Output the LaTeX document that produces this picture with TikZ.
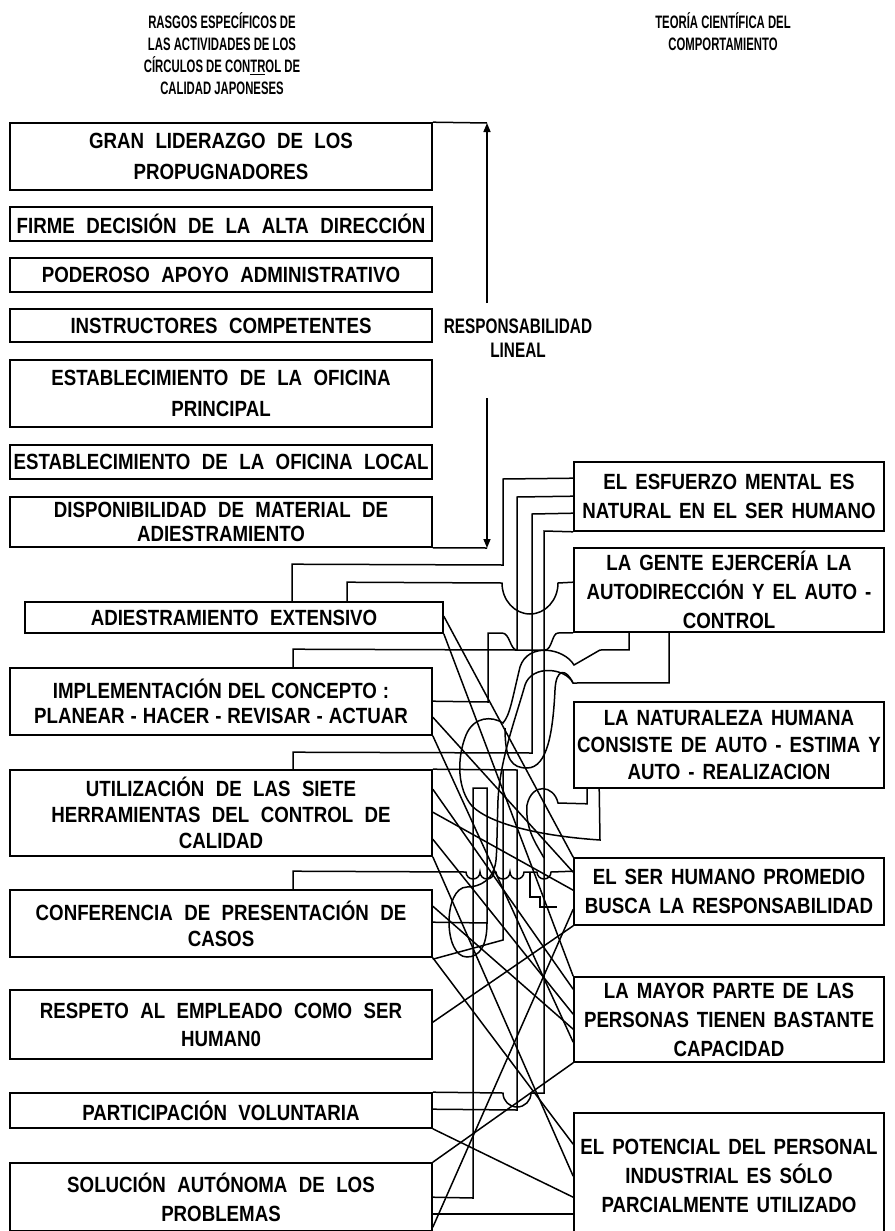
\documentclass[tikz,border=0pt]{standalone}
\usepackage{fontspec}
\setmainfont{Liberation Sans}
\newfontfamily\boxfont{Liberation Sans}[FakeStretch=0.85,WordSpace=2.2]
\newfontfamily\headfont{Liberation Sans}[FakeStretch=0.63]
\newfontfamily\sidefont{Liberation Sans}[FakeStretch=0.73]
\newcommand\narrowgaps{\spaceskip 6pt\relax}
\newcommand\rightgaps{\spaceskip 8pt\relax}
\usetikzlibrary{arrows.meta}
\begin{document}
\begin{tikzpicture}[x=1pt,y=-1pt,
  box/.style={draw, line width=1.6pt, inner sep=0pt, align=center,
    font=\boxfont\bfseries\fontsize{22}{29}\selectfont},
  lbox/.style={box, minimum width=422pt},
  rbox/.style={box, minimum width=310pt,
    font=\boxfont\bfseries\fontsize{22}{29}\selectfont\rightgaps},
  tight/.style={font=\boxfont\bfseries\fontsize{22}{29}\selectfont\narrowgaps},
  head/.style={align=center, font=\headfont\bfseries\fontsize{18}{22}\selectfont},
  wire/.style={line width=1.5pt, line join=miter},
  tip/.style={-{Triangle[length=9pt,width=7pt]}}]
\useasboundingbox (0,0) rectangle (894,1231);
\clip (0,0) rectangle (894,1231);

% column headings
\node[head] (hL) at (222,54) {RASGOS ESPECÍFICOS DE\\LAS ACTIVIDADES DE LOS\\CÍRCULOS DE CON\underline{TR}OL DE\\CALIDAD JAPONESES};
\node[head] (hR) at (723,32) {TEORÍA CIENTÍFICA DEL\\COMPORTAMIENTO};

% left column: features of the quality circles
\node[lbox, minimum height=67pt] (L1) at (221,156.5) {GRAN LIDERAZGO DE LOS\\[2pt]PROPUGNADORES};
\node[lbox, minimum height=34pt] (L2) at (221,224) {FIRME DECISIÓN DE LA ALTA DIRECCIÓN};
\node[lbox, minimum height=34pt] (L3) at (221,275) {PODEROSO APOYO ADMINISTRATIVO};
\node[lbox, minimum height=33pt] (L4) at (221,325.5) {INSTRUCTORES COMPETENTES};
\node[lbox, minimum height=67pt] (L5) at (221,393.5) {ESTABLECIMIENTO DE LA OFICINA\\[2pt]PRINCIPAL};
\node[lbox, minimum height=34pt] (L6) at (221,462) {ESTABLECIMIENTO DE LA OFICINA LOCAL};
\node[lbox, minimum height=50pt] (L7) at (221,522) {DISPONIBILIDAD DE MATERIAL DE\\[-5pt]ADIESTRAMIENTO};
\node[box, minimum width=418pt, minimum height=31pt] (L8) at (234,617.5) {ADIESTRAMIENTO EXTENSIVO};
\node[lbox, tight, minimum height=67pt] (L9) at (221,701.5) {IMPLEMENTACIÓN DEL CONCEPTO :\\[-4pt]PLANEAR - HACER - REVISAR - ACTUAR};
\node[lbox, minimum height=86pt] (L10) at (221,813) {UTILIZACIÓN DE LAS SIETE\\[-3pt]HERRAMIENTAS DEL CONTROL DE\\[-3pt]CALIDAD};
\node[lbox, minimum height=67pt] (L11) at (221,923.5) {CONFERENCIA DE PRESENTACIÓN DE\\[-3pt]CASOS};
\node[lbox, minimum height=69pt] (L12) at (221,1024.5) {RESPETO AL EMPLEADO COMO SER\\[-1pt]HUMAN0};
\node[lbox, minimum height=35pt] (L13) at (221,1110.5) {PARTICIPACIÓN VOLUNTARIA};
\node[lbox, minimum height=68pt] (L14) at (221,1197) {SOLUCIÓN AUTÓNOMA DE LOS\\PROBLEMAS};

% right column: scientific theory of behaviour
\node[rbox, minimum height=69pt] (R1) at (729,496.5) {EL ESFUERZO MENTAL ES\\NATURAL EN EL SER HUMANO};
\node[rbox, minimum height=84pt] (R2) at (729,590) {LA GENTE EJERCERÍA LA\\AUTODIRECCIÓN Y EL AUTO -\\CONTROL};
\node[rbox, minimum height=86pt] (R3) at (729,745) {LA NATURALEZA HUMANA\\[-2pt]CONSISTE DE AUTO - ESTIMA Y\\[-2pt]AUTO - REALIZACION};
\node[rbox, minimum height=67pt] (R4) at (729,891.5) {EL SER HUMANO PROMEDIO\\BUSCA LA RESPONSABILIDAD};
\node[rbox, minimum height=85pt] (R5) at (729,1019.5) {LA MAYOR PARTE DE LAS\\PERSONAS TIENEN BASTANTE\\CAPACIDAD};
\node[rbox, minimum height=126pt] (R6) at (729,1176) {EL POTENCIAL DEL PERSONAL\\INDUSTRIAL ES SÓLO\\PARCIALMENTE UTILIZADO};

% line responsibility, with its two arrows
\node[align=center, font=\sidefont\bfseries\fontsize{21}{24}\selectfont] (RL) at (518,338) {RESPONSABILIDAD\\LINEAL};
\coordinate (up) at (487,123);
\coordinate (dn) at (487,548);
\coordinate (upfoot) at (487,303);
\coordinate (dnfoot) at (487,398);
\draw[wire] (L1.north east) -- (up);
\draw[wire] (L7.south east) -- (dn);
\draw[wire, tip] (upfoot) -- (up);
\draw[wire, tip] (dnfoot) -- (dn);

% orthogonal links leaving the tops of the left boxes
\draw[wire] ([xshift=268]L8.north west) -- ++(0,-37) -- (503,565) -- (503,479) -- ([yshift=-17]R1.north west);
\draw[wire] ([xshift=323]L8.north west) -- ++(0,-19) -- (502,583)
  arc[start angle=180, end angle=0, x radius=28, y radius=31] -- ([yshift=-35]R2.north west);
\draw[wire] ([xshift=284]L9.north west) -- ++(0,-18) -- (517,650) -- (517,497) -- ([yshift=-35]R1.north west);
\draw[wire] ([xshift=284]L10.north west) -- ++(0,-17) -- (532,753) -- (532,514) -- ([yshift=-52]R1.north west);
\draw[wire] ([xshift=284]L11.north west) -- ++(0,-18) -- (466,872)
  arc[start angle=180, end angle=0, radius=7] -- (480,872)
  arc[start angle=180, end angle=0, radius=7] -- (496,872)
  arc[start angle=180, end angle=0, radius=7] -- (510,872)
  arc[start angle=180, end angle=0, radius=7] -- (537,872)
  arc[start angle=180, end angle=0, radius=7] -- ([yshift=-14]R4.north west);
\draw[wire] (R1.south west) -- (544,531) -- (544,1093) -- (531,1093)
  arc[start angle=0, end angle=180, radius=14] -- (L13.north east);
\draw[wire] ([yshift=-17]L13.north east) -- (517,1110) -- (517,770) -- (L10.north east);
\draw[wire] ([yshift=-70]L11.north east) -- (503,940) -- (503,770);
\draw[wire] ([yshift=-33]L11.north east) -- (487,923) -- (487,788) -- (473,788) -- (473,1198) -- ([yshift=-35]L14.north east);

% links hanging from the bottom of the second and third theory boxes
\draw[wire] ([yshift=-34]L9.north east) -- (488,702) -- (488,633) -- (502,633)
  .. controls (510,633) and (510,650) .. (517,650) -- (545,650)
  .. controls (552,650) and (552,633) .. (558,633) -- (R2.south west);
\draw[wire] ([xshift=56]R2.south west) -- ++(0,17) -- (600,650) -- (574,665)
  .. controls (564,648) and (528,642) .. (520,667)
  .. controls (512,700) and (510,715) .. (503,723)
  .. controls (492,716) and (474,716) .. (466,735)
  .. controls (456,760) and (458,790) .. (472,806)
  .. controls (490,824) and (540,836) .. (600,840) -- ([xshift=26]R3.south west);
\draw[wire] ([xshift=96]R2.south west) -- ++(0,50) -- (573,683)
  .. controls (566,668) and (556,668) .. (555,690)
  .. controls (553,730) and (548,768) .. (527,768)
  .. controls (512,768) and (505,760) .. (505,728);
\draw[wire] (573,683)
  .. controls (566,668) and (532,664) .. (525,685)
  .. controls (515,720) and (500,760) .. (498,800)
  .. controls (497,830) and (497,850) .. (496,860)
  .. controls (494,880) and (480,887) .. (467,887)
  .. controls (443,887) and (443,957) .. (467,957)
  .. controls (480,957) and (487,945) .. (487,923);
\draw[wire] ([xshift=14]R3.south west) -- ++(0,15) -- (558,803)
  .. controls (554,785) and (532,782) .. (527,805)
  .. controls (525,830) and (537,845) .. (544,858);
\draw[wire] (530,872) -- (530,897) -- (540,897) -- (540,907) -- (557,907);

% diagonal links
\draw[wire] ([yshift=-15]L8.north east) -- (R4.north west);
\draw[wire] (L8.south east) -- (R5.north west);
\draw[wire] ([yshift=-50]L9.north east) -- ([yshift=-15]R4.north west);
\draw[wire] (L9.south east) -- ([yshift=-66]R5.north west);
\draw[wire] ([yshift=-20]L10.north east) -- ([yshift=-13]R5.north west);
\draw[wire] ([yshift=-43]L10.north east) -- ([yshift=-33]R4.north west);
\draw[wire] ([yshift=-70]L10.north east) -- ([yshift=-38]R5.north west);
\draw[wire] (L10.south east) -- ([yshift=-64]R6.north west);
\draw[wire] ([yshift=-17]L11.north east) -- ([yshift=-53]R5.north west);
\draw[wire] (L11.south east) -- ([yshift=-32]R6.north west);
\draw[wire] ([yshift=-33]L12.north east) -- (R4.south west);
\draw[wire] (L13.south east) -- ([yshift=-85]R6.north west);
\draw[wire] (L14.north east) -- (R5.south west);
\draw[wire] ([yshift=-52]L14.north east) -- ([yshift=-102]R6.north west);
\draw[wire] ([yshift=-65]L14.north east) -- ([yshift=-52]R4.north west);
\end{tikzpicture}
\end{document}
